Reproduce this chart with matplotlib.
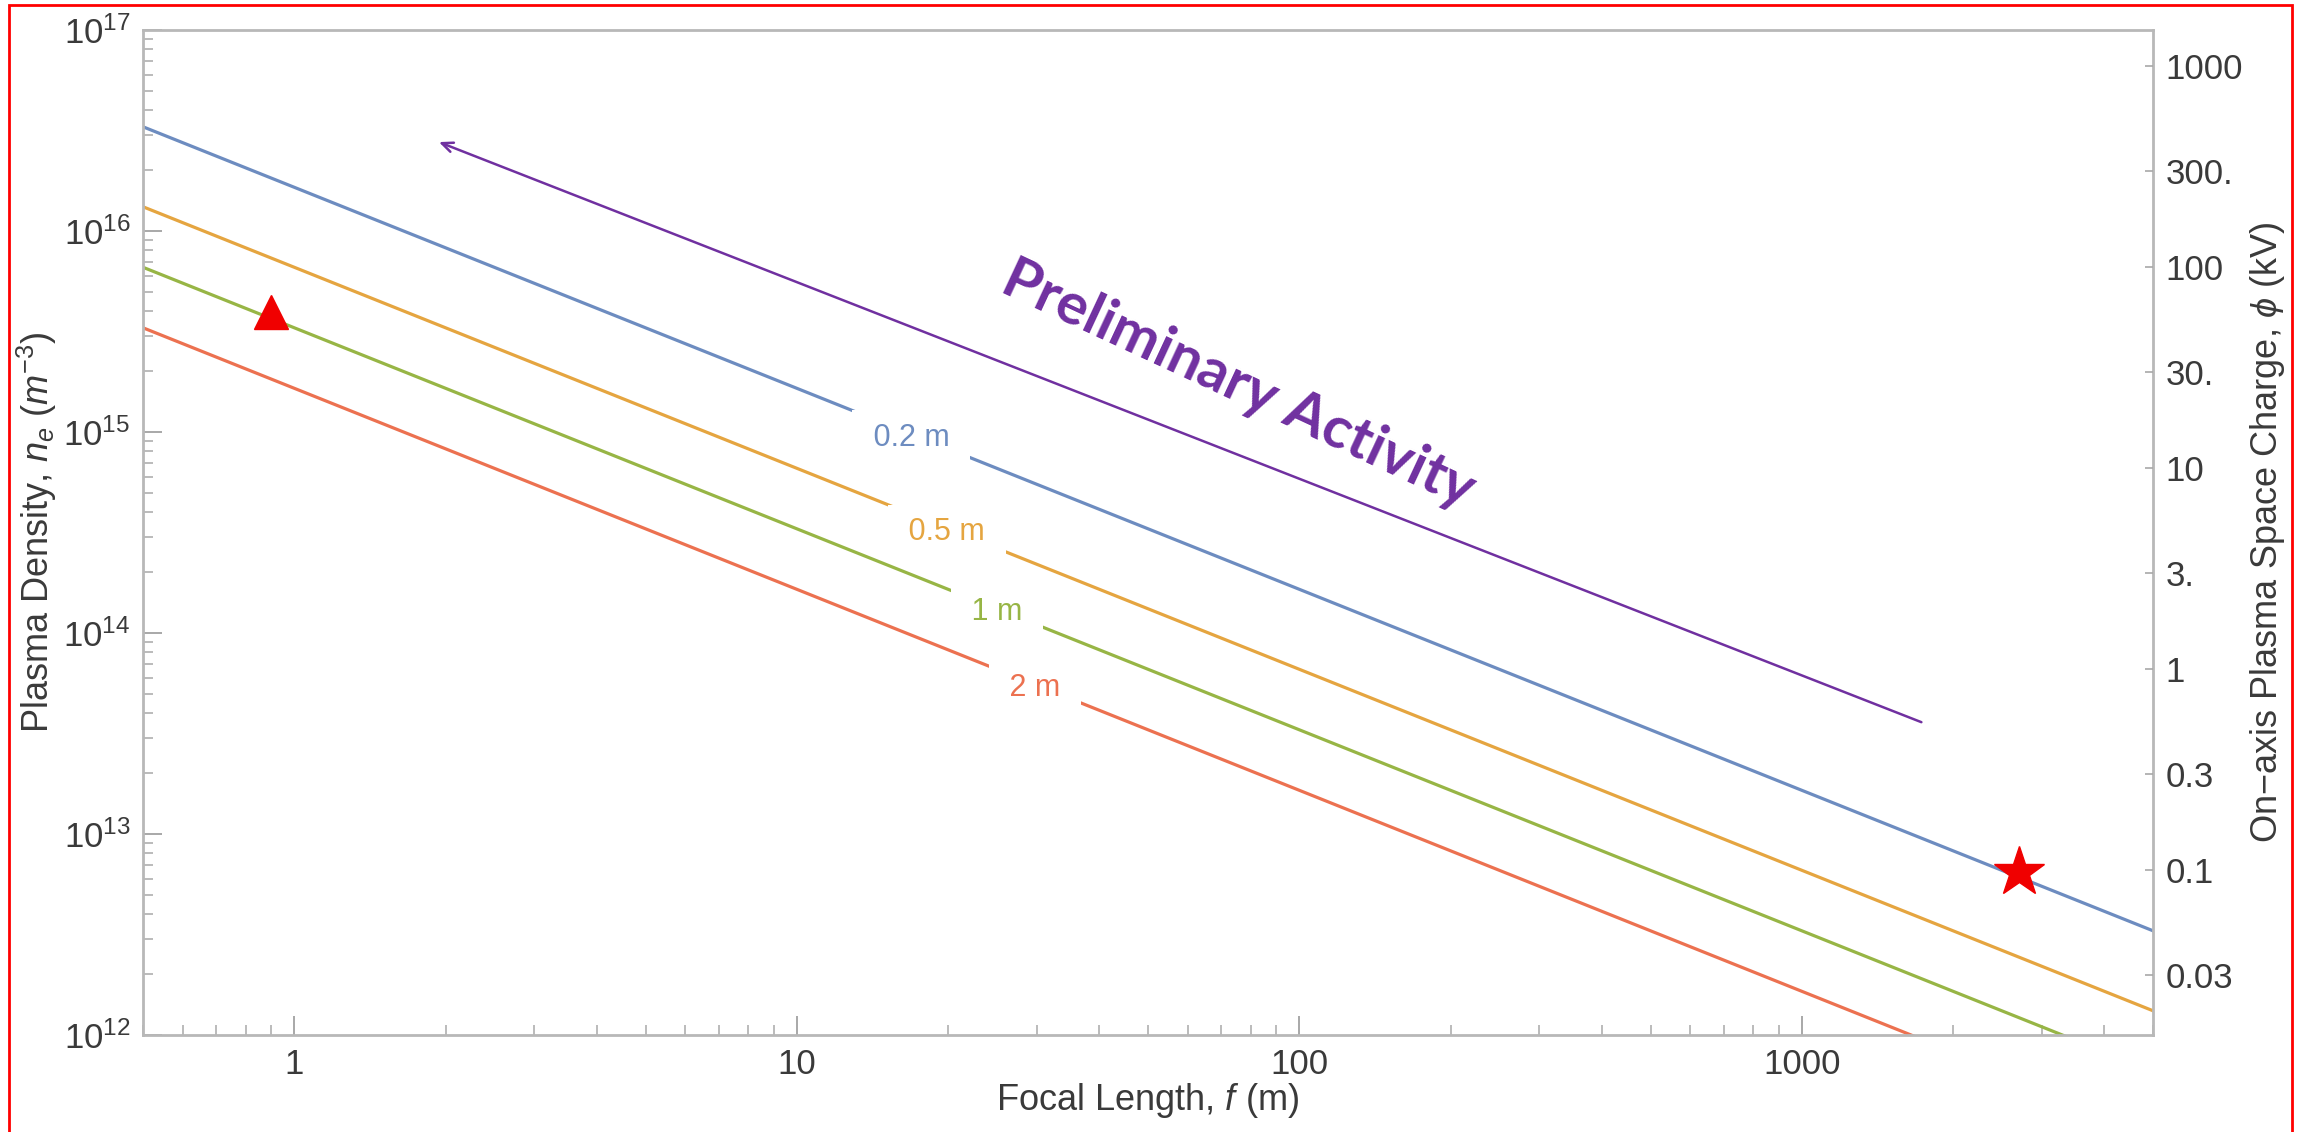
import matplotlib.pyplot as plt
import numpy as np
from matplotlib.patches import Rectangle
from matplotlib.ticker import FixedLocator, LogLocator, NullFormatter, NullLocator

plt.rcParams['font.family'] = ['Liberation Sans', 'DejaVu Sans']
plt.rcParams['mathtext.fontset'] = 'custom'
plt.rcParams['mathtext.rm'] = 'Liberation Sans'
plt.rcParams['mathtext.it'] = 'Liberation Sans:italic'

# focal length (m) at the two ends of the plotted range
focal_m = [0.5, 5000]
# plasma density (m^-3) for each beam size, read at those two ends
density_02m = [3.3e16, 3.3e12]
density_05m = [1.32e16, 1.32e12]
density_1m = [6.6e15, 6.6e11]
density_2m = [3.3e15, 3.3e11]

series = [density_02m, density_05m, density_1m, density_2m]
series_labels = ['0.2 m', '0.5 m', '1 m', '2 m']
label_focal = [16.9, 19.9, 25.0, 29.8]
series_colors = ['#6d8cc0', '#e5a540', '#97b545', '#ec7150']

triangle_point = (0.9, 3.95e15)
star_point = (2700, 6.5e12)
arrow_tail = (1730, 3.6e13)
arrow_head = (1.94, 2.77e16)

# right axis: space charge potential (kV) per unit density
phi_per_density = 1 / 6.6e13
phi_ticks = [0.03, 0.1, 0.3, 1, 3, 10, 30, 100, 300, 1000]
phi_tick_labels = ['0.03', '0.1', '0.3', '1', '3.', '10', '30.', '100', '300.', '1000']
x_ticks = [1, 10, 100, 1000]

grey = '#a8a8a8'
text_col = '#3a3a3a'

fig = plt.figure(figsize=(23.02, 11.32), dpi=100)
ax = fig.add_axes([143 / 2302, 1 - 1035 / 1132, 2010 / 2302, 1005 / 1132])

for dens, lab, lf, col in zip(series, series_labels, label_focal, series_colors):
    ax.plot(focal_m, dens, color=col, lw=2.3, zorder=2)
    y_lab = 10 ** np.interp(np.log10(lf), np.log10(focal_m), np.log10(dens))
    # spaces widen the white box so the line gets a gap either side of the label
    ax.text(lf, y_lab, ' ' + lab + ' ', color=col, fontsize=22, ha='center',
            va='center_baseline', zorder=3,
            bbox=dict(boxstyle='square,pad=0.4', fc='white', ec='none'))

ax.set_xscale('log')
ax.set_yscale('log')
ax.set_xlim(focal_m[0], focal_m[1])
ax.set_ylim(1e12, 1e17)

ax.set_xticks(x_ticks, labels=[str(v) for v in x_ticks])
ax.xaxis.set_minor_locator(LogLocator(base=10, subs=np.arange(2, 10), numticks=20))
ax.xaxis.set_minor_formatter(NullFormatter())
ax.yaxis.set_major_locator(LogLocator(base=10, numticks=10))
ax.yaxis.set_minor_locator(LogLocator(base=10, subs=np.arange(2, 10), numticks=20))
ax.yaxis.set_minor_formatter(NullFormatter())

ax.tick_params(which='both', direction='in', color=grey, top=False, right=False,
               labelcolor=text_col, labelsize=25)
ax.tick_params(which='major', length=14, width=1.4, pad=9)
ax.tick_params(which='minor', length=7, width=1.1)
for s in ax.spines.values():
    s.set_color('#b8b8b8')
    s.set_linewidth(2)

ax2 = ax.twinx()
ax2.set_yscale('log')
ax2.set_ylim(1e12 * phi_per_density, 1e17 * phi_per_density)
ax2.yaxis.set_major_locator(FixedLocator(phi_ticks))
ax2.set_yticks(phi_ticks, labels=phi_tick_labels)
ax2.yaxis.set_minor_locator(NullLocator())
ax2.tick_params(direction='in', length=6, width=1.2, color=grey, labelsize=25,
                labelcolor=text_col, pad=9)
for s in ax2.spines.values():
    s.set_visible(False)

ax.set_xlabel(r'Focal Length, $f$ (m)', fontsize=26, color=text_col)
ax.xaxis.set_label_coords(0.5, -0.065)
ax.xaxis.label.set_va('center')
ax.set_ylabel(r'Plasma Density, $n_e$ ($m^{-3}$)', fontsize=26, color=text_col)
ax.yaxis.set_label_coords(-0.053, 0.5)
ax.yaxis.label.set_va('center')
ax2.set_ylabel(r'On−axis Plasma Space Charge, $\phi$ (kV)', fontsize=26, color=text_col)
ax2.yaxis.set_label_coords(1.057, 0.5)
ax2.yaxis.label.set_va('center')

ax.plot(*triangle_point, marker='^', ms=25, color='#f00000', zorder=5)
ax.plot(*star_point, marker='*', ms=38, color='#f00000', zorder=5)

ax.annotate('', xy=arrow_head, xytext=arrow_tail,
            arrowprops=dict(arrowstyle='->,head_length=0.8,head_width=0.35',
                            color='#7030a0', lw=1.8, shrinkA=0, shrinkB=0),
            zorder=4)
ax.text(0.545, 0.647, 'Preliminary Activity', transform=ax.transAxes,
        rotation=-25, rotation_mode='anchor', ha='center', va='center',
        fontsize=42, fontweight='bold', color='#7030a0',
        family=['Lato', 'DejaVu Sans'])

fig.add_artist(Rectangle((9 / 2302, -0.01), 2283 / 2302, 1.0056, transform=fig.transFigure,
                         fill=False, ec='red', lw=2))

fig.savefig('out.png', dpi=100)
